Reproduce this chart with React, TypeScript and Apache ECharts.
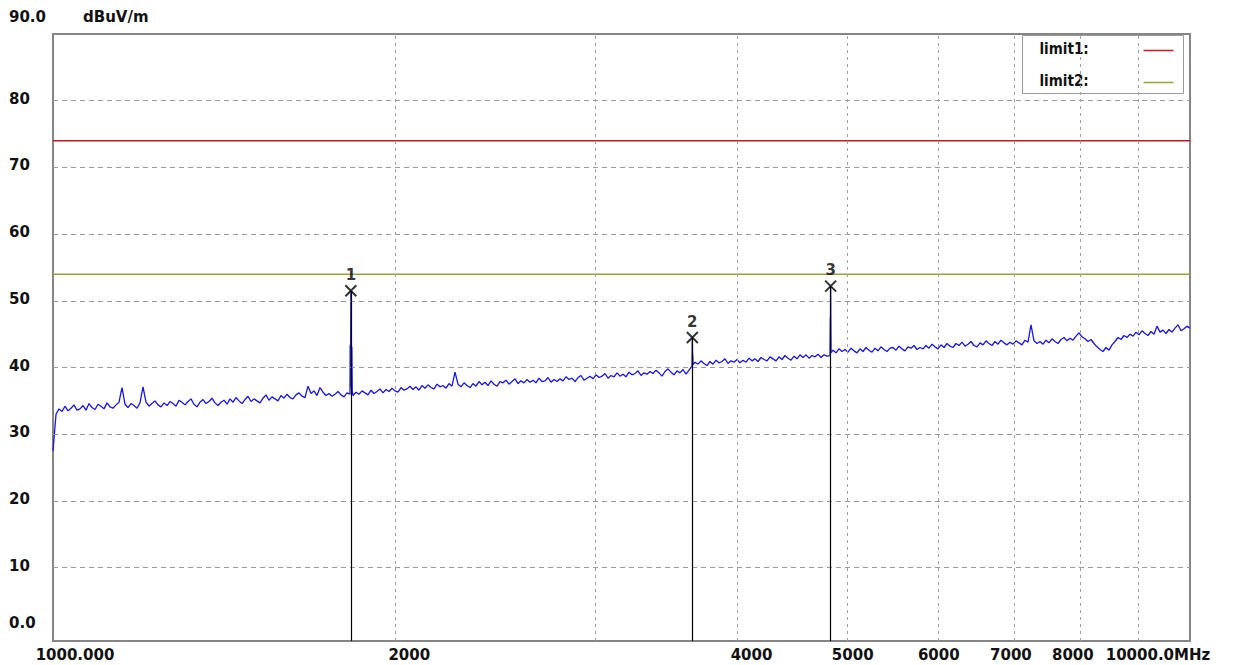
import React, { useEffect, useRef } from "react";
import * as echarts from "echarts";

// ---- data ----
const freqStart = 1000;
const freqStop = 10000;
const yMin = -1;
const yMax = 90;
const yTickValues = [0, 10, 20, 30, 40, 50, 60, 70, 80, 90];
const yGridValues = [10, 20, 30, 40, 50, 60, 70, 80];
const xGridFreqs = [2000, 3000, 4000, 5000, 6000, 7000, 8000, 9000];
const xLabelFreqs = [1000, 2000, 4000, 5000, 6000, 7000, 8000, 10000];
const xLabelTexts = ["1000.000", "2000", "4000", "5000", "6000", "7000", "8000", "10000.0MHz"];
const xLabelShift = [22, 14, 14, 5, 1, -3, -7, -32];

const limit1Value = 74;
const limit2Value = 54;

// sweep trace values (dBuV/m), equally spaced on the log axis
const traceValues = [
  27.5, 33.0, 33.8, 33.4, 34.2, 33.5, 33.9, 34.4, 33.6, 33.8,
  34.3, 33.6, 34.6, 34.0, 33.7, 34.5, 34.2, 33.8, 34.7, 34.1,
  33.9, 34.4, 34.8, 37.0, 34.5, 34.0, 34.6, 34.3, 33.9, 34.7,
  37.1, 34.8, 34.2, 34.6, 35.0, 34.4, 34.1, 34.7, 34.3, 34.9,
  34.6, 34.2, 35.1, 34.8, 34.4, 34.9, 35.3, 34.5, 34.1, 34.8,
  35.2, 34.6, 34.9, 35.4, 34.7, 34.3, 34.8, 35.1, 34.5, 35.3,
  34.8, 35.5, 35.0, 34.6, 35.2, 35.7, 34.9, 35.3, 35.0, 34.7,
  35.4, 35.9, 35.1, 35.6, 35.3, 35.0, 35.8, 35.4, 36.0, 35.5,
  35.3, 35.9, 36.2, 35.7, 35.5, 37.2, 36.1, 36.5, 35.8, 37.0,
  36.3, 35.8, 36.1, 35.7, 36.0, 36.4, 35.9, 35.6, 36.2, 36.0,
  35.8, 36.3, 36.0, 36.5, 36.2, 35.9, 36.6, 36.1, 36.4, 36.8,
  36.2, 36.7, 36.4, 36.9, 36.5, 36.3, 37.0, 36.6, 36.8, 37.2,
  36.7, 37.1, 36.6, 37.3, 36.9, 37.4, 37.0, 36.8, 37.5, 37.1,
  37.3, 36.9, 37.6, 37.2, 39.3, 37.5, 37.1, 37.7, 37.3, 37.0,
  37.6, 37.2, 37.9, 37.4, 37.8, 37.3, 38.0, 37.5, 37.2, 37.9,
  37.7, 38.1, 37.5, 37.9, 38.3, 37.6, 38.0, 37.7, 38.2, 37.8,
  38.1, 37.7, 38.4, 37.9, 38.0, 38.5, 37.8, 38.2, 37.9, 38.3,
  38.0, 38.6, 38.2, 38.4, 37.9, 38.5, 38.8, 38.1, 38.4, 38.7,
  38.3, 38.9, 38.5, 38.7, 39.1, 38.4, 38.8, 38.6, 39.2, 38.7,
  39.0, 38.6, 39.3, 38.9, 39.1, 39.5, 38.8, 39.2, 39.0, 39.4,
  39.1, 39.6, 39.2, 38.7, 39.4, 39.8, 39.3, 38.9, 39.5, 39.2,
  39.7, 39.0, 39.6, 40.2, 40.8, 40.5, 41.0, 40.6, 40.3, 40.9,
  40.5, 41.1, 40.7, 40.9, 41.3, 40.6, 41.0, 40.8, 41.2, 40.7,
  41.1, 40.8, 41.4, 41.0, 41.3, 40.9, 41.5, 41.2, 41.0, 41.6,
  41.3, 41.0, 41.6, 41.2, 41.8, 41.4, 41.1, 41.7, 41.3, 41.9,
  41.5, 41.9, 41.4, 41.8, 41.6, 42.0, 41.5, 41.9, 41.7, 41.8,
  42.6, 42.2, 42.8, 42.4, 42.7, 42.3, 42.9, 42.5, 42.2, 42.8,
  42.4, 43.0, 42.6, 42.3, 42.9, 42.5, 43.1, 42.7, 42.4, 42.9,
  43.0, 42.6, 43.2, 42.8, 42.5, 43.1, 42.9, 43.3, 42.7, 43.0,
  42.8, 43.3, 42.9, 43.5, 43.1, 42.8, 43.4, 43.0, 43.6, 43.2,
  43.0, 43.6, 43.3, 43.8, 43.2, 43.5, 43.9, 43.3, 43.1, 43.7,
  43.4, 44.0, 43.6, 43.3, 43.9, 43.5, 44.1, 43.7, 43.4, 43.8,
  43.5, 44.0, 43.7, 43.4, 44.1, 43.8, 46.4, 44.0, 43.6, 43.9,
  43.5, 44.1, 43.7, 44.3, 43.9, 43.6, 44.2, 44.5, 44.0, 44.4,
  44.1, 44.7, 45.2, 44.6, 44.3, 43.9, 44.2, 43.6, 43.1, 42.7,
  42.4, 43.0, 42.6, 43.4, 43.9, 44.5, 44.2, 44.8, 44.5, 45.0,
  44.7, 45.3, 44.9, 45.5, 45.1, 44.8, 45.4, 45.0, 46.2, 45.3,
  45.6, 45.1, 45.7, 45.3, 45.9, 46.4, 45.5, 45.8, 46.2, 45.9,
];

// emission spikes in the trace (frequency MHz, level dBuV/m)
const spikeFreqs = [
  1825.5, 1826.5, 1827.3, 1828, 1828.8, 1830, 1831.5, 1833,
  3648.5, 3650, 3651.5, 3653, 3655,
  4827, 4829, 4830, 4831.5, 4834,
];
const spikeValues = [
  43.4, 37.0, 43.6, 51.5, 43.3, 37.8, 43.1, 36.5,
  41.9, 44.5, 41.6, 42.0, 40.4,
  47.5, 42.5, 52.2, 47.4, 42.2,
];

// markers
const markerFreqs = [1828, 3650, 4830];
const markerValues = [51.5, 44.5, 52.2];
const markerLabels = ["1", "2", "3"];

const legendNames = ["limit1:", "limit2:"];
const legendColors = ["#c41820", "#9aa236"];

const TRACE_COLOR = "#1616e8";
const AXIS_FONT = "'DejaVu Sans', sans-serif";

export default function App() {
  const ref = useRef<HTMLDivElement>(null);

  useEffect(() => {
    if (!ref.current) return;
    const chart = echarts.init(ref.current, undefined, { renderer: "svg" });

    const n = traceValues.length;
    const sweepFreqs = traceValues.map(
      (_, i) => freqStart * Math.pow(freqStop / freqStart, i / (n - 1))
    );
    const tracePoints = [
      ...sweepFreqs.map((f, i) => [f, traceValues[i]]),
      ...spikeFreqs.map((f, i) => [f, spikeValues[i]]),
    ].sort((a, b) => a[0] - b[0]);

    const gridLineStyleH = { color: "#9a9a9a", width: 1, type: [5, 4] as any };
    const gridLineStyleV = { color: "#a0a0a0", width: 1, type: [3, 4] as any };

    const xGridLines = xGridFreqs.map((f) => [
      { coord: [f, yMin], lineStyle: gridLineStyleV },
      { coord: [f, yMax] },
    ]);
    const yGridLines = yGridValues.map((v) => [
      { coord: [freqStart, v], lineStyle: gridLineStyleH },
      { coord: [freqStop, v] },
    ]);
    const xLabelLines = xLabelFreqs.map((f, i) => {
      const s = xLabelShift[i];
      return [
        {
          coord: [f, yMin],
          lineStyle: { color: "rgba(0,0,0,0)", width: 0 },
          label: {
            show: true,
            position: "start",
            distance: 6,
            formatter: xLabelTexts[i],
            fontFamily: AXIS_FONT,
            fontWeight: "bold",
            fontSize: 15,
            color: "#111",
            opacity: 1,
            padding: s >= 0 ? [0, 0, 0, 2 * s] : [0, -2 * s, 0, 0],
          },
        },
        { coord: [f, yMax] },
      ];
    });

    const markerLines = markerFreqs.map((f, i) => [
      { coord: [f, yMin] },
      { coord: [f, markerValues[i]] },
    ]);

    const option: any = {
      animation: false,
      backgroundColor: "#ffffff",
      grid: {
        left: 53,
        right: 62,
        top: 34,
        bottom: 24,
        show: true,
        borderColor: "#858585",
        borderWidth: 2,
        backgroundColor: "#ffffff",
      },
      xAxis: {
        type: "log",
        logBase: 10,
        min: freqStart,
        max: freqStop,
        axisLine: { show: false },
        axisTick: { show: false },
        axisLabel: { show: false },
        splitLine: { show: false },
      },
      yAxis: {
        type: "value",
        min: yMin,
        max: yMax,
        axisLine: { show: false },
        axisTick: { show: false },
        splitLine: { show: false },
        axisLabel: {
          customValues: yTickValues,
          align: "left",
          margin: 44,
          formatter: (v: number) =>
            v === 90 ? "{top|90.0}" : v === 0 ? "{bot|0.0}" : "{n|" + v + "}",
          rich: {
            top: { fontFamily: AXIS_FONT, fontWeight: "bold", fontSize: 15, color: "#111", padding: [0, 0, 34, 0] },
            bot: { fontFamily: AXIS_FONT, fontWeight: "bold", fontSize: 15, color: "#111", padding: [0, 0, 22, 0] },
            n: { fontFamily: AXIS_FONT, fontWeight: "bold", fontSize: 15, color: "#111", padding: [0, 0, 4, 0] },
          },
        },
      },
      series: [
        {
          name: "grid",
          type: "line",
          data: [],
          silent: true,
          z: 1,
          markLine: {
            silent: true,
            symbol: ["none", "none"],
            label: { show: false },
            lineStyle: gridLineStyleH,
            data: [...yGridLines, ...xGridLines, ...xLabelLines],
          },
        },
        {
          name: legendNames[0],
          type: "line",
          data: [
            [freqStart, limit1Value],
            [freqStop, limit1Value],
          ],
          showSymbol: false,
          lineStyle: { color: legendColors[0], width: 1.5 },
          itemStyle: { color: legendColors[0] },
          z: 2,
        },
        {
          name: legendNames[1],
          type: "line",
          data: [
            [freqStart, limit2Value],
            [freqStop, limit2Value],
          ],
          showSymbol: false,
          lineStyle: { color: legendColors[1], width: 1.5 },
          itemStyle: { color: legendColors[1] },
          z: 2,
        },
        {
          name: "markerLines",
          type: "line",
          data: [],
          silent: true,
          z: 3,
          markLine: {
            silent: true,
            symbol: ["none", "none"],
            label: { show: false },
            lineStyle: { color: "#000", width: 1.2, type: "solid" },
            data: markerLines,
          },
        },
        {
          name: "trace",
          type: "line",
          data: tracePoints,
          showSymbol: false,
          symbol: "none",
          lineStyle: { color: TRACE_COLOR, width: 1.3 },
          z: 4,
        },
        {
          name: "markers",
          type: "scatter",
          data: markerFreqs.map((f, i) => [f, markerValues[i]]),
          symbol: "path://M0 0L10 10M10 0L0 10",
          symbolSize: 11,
          itemStyle: { color: "rgba(0,0,0,0)", borderColor: "#000", borderWidth: 2 },
          label: {
            show: true,
            position: "top",
            distance: 2,
            formatter: (p: any) => markerLabels[p.dataIndex],
            fontFamily: AXIS_FONT,
            fontWeight: "bold",
            fontSize: 15,
            color: "#000",
          },
          z: 5,
        },
      ],
      graphic: [
        {
          type: "text",
          left: 83,
          top: 9,
          style: {
            text: "dBuV/m",
            font: "bold 15px 'DejaVu Sans', sans-serif",
            fill: "#111",
          },
          z: 10,
        },
        {
          type: "group",
          left: 1022,
          top: 35,
          z: 20,
          children: [
            {
              type: "rect",
              shape: { x: 0, y: 0, width: 161, height: 58 },
              style: { fill: "#ffffff", stroke: "#9a9a9a", lineWidth: 1 },
            },
            {
              type: "text",
              x: 17,
              y: 13,
              style: {
                text: legendNames[0],
                font: "bold 15px 'Liberation Sans Narrow', 'DejaVu Sans Condensed', sans-serif",
                fill: "#111",
                verticalAlign: "middle",
              },
            },
            {
              type: "text",
              x: 17,
              y: 45,
              style: {
                text: legendNames[1],
                font: "bold 15px 'Liberation Sans Narrow', 'DejaVu Sans Condensed', sans-serif",
                fill: "#111",
                verticalAlign: "middle",
              },
            },
            {
              type: "line",
              shape: { x1: 121, y1: 15, x2: 151, y2: 15 },
              style: { stroke: legendColors[0], lineWidth: 1.5 },
            },
            {
              type: "line",
              shape: { x1: 121, y1: 47, x2: 151, y2: 47 },
              style: { stroke: legendColors[1], lineWidth: 1.5 },
            },
          ],
        },
      ],
    };

    chart.setOption(option);
    return () => chart.dispose();
  }, []);

  return (
    <div
      ref={ref}
      style={{ position: "fixed", left: 0, top: 0, width: 1252, height: 665, background: "#fff" }}
    />
  );
}
